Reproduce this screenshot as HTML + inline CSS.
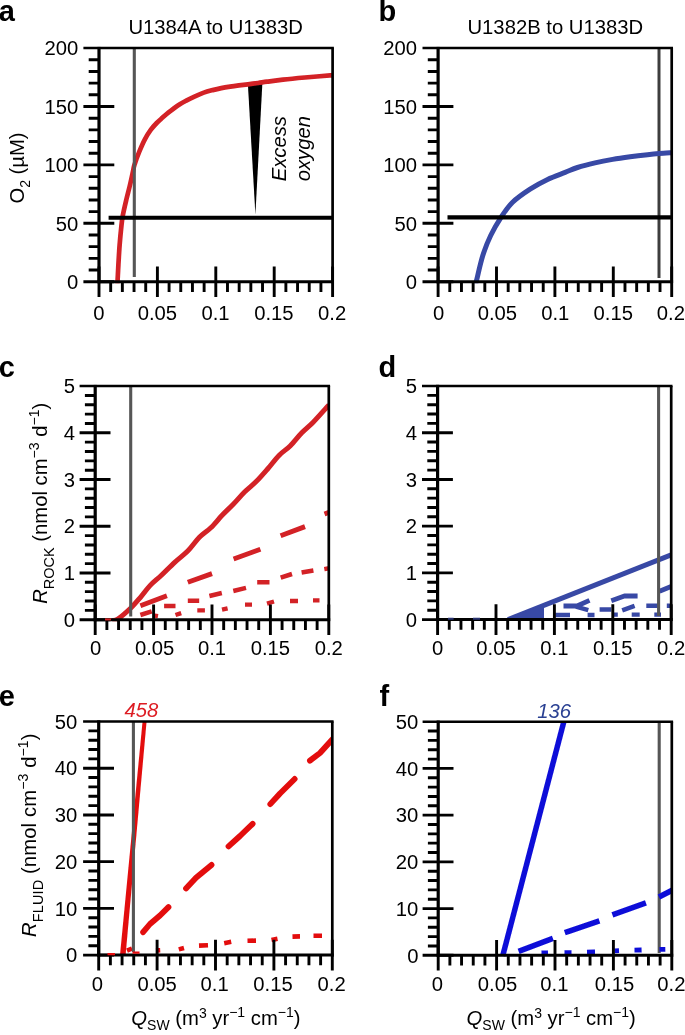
<!DOCTYPE html>
<html><head><meta charset="utf-8"><title>Figure</title>
<style>
html,body{margin:0;padding:0;background:#fff;}
body{width:685px;height:1035px;overflow:hidden;}
svg{display:block;}
</style></head><body>
<svg width="685" height="1035" viewBox="0 0 685 1035" font-family="'Liberation Sans', sans-serif" font-size="20.25" fill="#000">
<rect width="685" height="1035" fill="#fff"/>
<defs><filter id="soft" x="0" y="0" width="685" height="1035" filterUnits="userSpaceOnUse"><feGaussianBlur stdDeviation="0.45"/></filter><clipPath id="ca"><rect x="99" y="48.1" width="234.1" height="235.1"/></clipPath><clipPath id="cb"><rect x="438.1" y="48.1" width="234.1" height="235.1"/></clipPath><clipPath id="cc"><rect x="95.2" y="386.1" width="234.1" height="235.1"/></clipPath><clipPath id="cd"><rect x="437.6" y="386" width="234.1" height="235.1"/></clipPath><clipPath id="ce"><rect x="98.7" y="721.5" width="234.1" height="235.1"/></clipPath><clipPath id="cf"><rect x="438.2" y="721.7" width="234.1" height="235.1"/></clipPath></defs>
<g filter="url(#soft)">
<path d="M247.9 84.4L262.4 82.4L255.4 214.5Z" fill="#000"/>
<g clip-path="url(#ca)">
<path d="M117.3 284C117.33 283.68 117.32 285.33 117.5 282.1C117.68 278.87 118.05 270.73 118.4 264.6C118.75 258.47 119.1 251.72 119.6 245.3C120.1 238.88 120.87 231.07 121.4 226.1C121.93 221.13 121.98 219.88 122.8 215.5C123.62 211.12 125.13 204.75 126.3 199.8C127.47 194.85 128.63 190.77 129.8 185.8C130.97 180.83 132.52 173.52 133.3 170C134.08 166.48 133.52 167.72 134.5 164.7C135.48 161.68 137.45 156.17 139.2 151.9C140.95 147.63 143.05 142.8 145 139.1C146.95 135.4 148.95 132.38 150.9 129.7C152.85 127.02 154.75 125.02 156.7 123C158.65 120.98 160.62 119.37 162.6 117.6C164.58 115.83 166.12 114.38 168.6 112.4C171.08 110.42 174.55 107.67 177.5 105.7C180.45 103.73 183.38 102.17 186.3 100.6C189.22 99.03 192.08 97.63 195 96.3C197.92 94.97 200.87 93.63 203.8 92.6C206.73 91.57 209.68 90.85 212.6 90.1C215.52 89.35 218.38 88.68 221.3 88.1C224.22 87.52 227.18 87.05 230.1 86.6C233.02 86.15 235.82 85.78 238.8 85.4C241.78 85.02 244.78 84.7 248 84.3C251.22 83.9 254.93 83.43 258.1 83C261.27 82.57 262.85 82.27 267 81.7C271.15 81.13 276.68 80.3 283 79.6C289.32 78.9 296.57 78.23 304.9 77.5C313.23 76.77 328.32 75.58 333 75.2" stroke="#d32027" stroke-width="4.7" fill="none" stroke-linejoin="round" />
</g>
<path d="M134.3 48V277" stroke="#565656" stroke-width="3.1"/>
<path d="M108.6 217.8H332.6" stroke="#000" stroke-width="4.1"/>
<path d="M83.4 48.1H333.9" stroke="#000" stroke-width="2.5"/>
<path d="M332.6 48.1V283.2" stroke="#000" stroke-width="2.7"/>
<path d="M99 46.9V283.2" stroke="#000" stroke-width="3.2"/>
<path d="M97.4 281.7H334" stroke="#000" stroke-width="3.0"/>
<path d="M99 266.4V297M110.68 281.7V291.9M122.36 281.7V291.9M134.04 281.7V291.9M145.72 281.7V291.9M157.4 266.4V297M169.08 281.7V291.9M180.76 281.7V291.9M192.44 281.7V291.9M204.12 281.7V291.9M215.8 266.4V297M227.48 281.7V291.9M239.16 281.7V291.9M250.84 281.7V291.9M262.52 281.7V291.9M274.2 266.4V297M285.88 281.7V291.9M297.56 281.7V291.9M309.24 281.7V291.9M320.92 281.7V291.9M332.6 266.4V297M83.4 281.7H114.3M88.7 270.02H99M88.7 258.34H99M88.7 246.66H99M88.7 234.98H99M83.4 223.3H114.3M88.7 211.62H99M88.7 199.94H99M88.7 188.26H99M88.7 176.58H99M83.4 164.9H114.3M88.7 153.22H99M88.7 141.54H99M88.7 129.86H99M88.7 118.18H99M83.4 106.5H114.3M88.7 94.82H99M88.7 83.14H99M88.7 71.46H99M88.7 59.78H99" stroke="#000" stroke-width="2.9" fill="none"/>
<text x="99" y="320" text-anchor="middle">0</text>
<text x="157.4" y="320" text-anchor="middle">0.05</text>
<text x="215.5" y="320" text-anchor="middle">0.1</text>
<text x="273.9" y="320" text-anchor="middle">0.15</text>
<text x="332.1" y="320" text-anchor="middle">0.2</text>
<text x="78.3" y="288.9" text-anchor="end">0</text>
<text x="78.3" y="230.5" text-anchor="end">50</text>
<text x="78.3" y="172.1" text-anchor="end">100</text>
<text x="78.3" y="113.7" text-anchor="end">150</text>
<text x="78.3" y="55.3" text-anchor="end">200</text>
<text x="215.7" y="34" text-anchor="middle">U1384A to U1383D</text>
<text transform="translate(285.6 181.3) rotate(-90)" font-style="italic">Excess</text>
<text transform="translate(310 181.3) rotate(-90)" font-style="italic">oxygen</text>
<text transform="translate(24 203.6) rotate(-90)">O<tspan font-size="14" dy="6.3">2</tspan><tspan dy="-6.3"> (µM)</tspan></text>
<text x="-1.2" y="21.2" font-weight="bold" font-size="29">a</text>
<path d="M659.0 48V278" stroke="#3c3c3c" stroke-width="3.0"/>
<g clip-path="url(#cb)">
<path d="M475.6 284C475.77 283.37 475.4 284.93 476.6 280.2C477.8 275.47 480.45 263.05 482.8 255.6C485.15 248.15 487.63 241.92 490.7 235.5C493.77 229.08 497.55 222.65 501.2 217.1C504.85 211.55 507.78 206.87 512.6 202.2C517.42 197.53 524.27 192.9 530.1 189.1C535.93 185.3 541.77 182.18 547.6 179.4C553.43 176.62 560.12 174.38 565.1 172.4C570.08 170.42 572.52 169.08 577.5 167.5C582.48 165.92 589.15 164.25 595 162.9C600.85 161.55 606.75 160.42 612.6 159.4C618.45 158.38 624.27 157.58 630.1 156.8C635.93 156.02 642.78 155.23 647.6 154.7C652.42 154.17 654.85 153.93 659 153.6C663.15 153.27 670.25 152.85 672.5 152.7" stroke="#3948a5" stroke-width="5.0" fill="none" stroke-linejoin="round" />
</g>
<path d="M447.5 217.4H671.7" stroke="#000" stroke-width="4.1"/>
<path d="M422.5 48.1H673" stroke="#000" stroke-width="2.5"/>
<path d="M671.7 48.1V283.2" stroke="#000" stroke-width="2.7"/>
<path d="M438.1 46.9V283.2" stroke="#000" stroke-width="3.2"/>
<path d="M436.5 281.7H673.1" stroke="#000" stroke-width="3.0"/>
<path d="M438.1 266.4V297M449.78 281.7V291.9M461.46 281.7V291.9M473.14 281.7V291.9M484.82 281.7V291.9M496.5 266.4V297M508.18 281.7V291.9M519.86 281.7V291.9M531.54 281.7V291.9M543.22 281.7V291.9M554.9 266.4V297M566.58 281.7V291.9M578.26 281.7V291.9M589.94 281.7V291.9M601.62 281.7V291.9M613.3 266.4V297M624.98 281.7V291.9M636.66 281.7V291.9M648.34 281.7V291.9M660.02 281.7V291.9M671.7 266.4V297M422.5 281.7H453.4M427.8 270.02H438.1M427.8 258.34H438.1M427.8 246.66H438.1M427.8 234.98H438.1M422.5 223.3H453.4M427.8 211.62H438.1M427.8 199.94H438.1M427.8 188.26H438.1M427.8 176.58H438.1M422.5 164.9H453.4M427.8 153.22H438.1M427.8 141.54H438.1M427.8 129.86H438.1M427.8 118.18H438.1M422.5 106.5H453.4M427.8 94.82H438.1M427.8 83.14H438.1M427.8 71.46H438.1M427.8 59.78H438.1" stroke="#000" stroke-width="2.9" fill="none"/>
<text x="438.6" y="320" text-anchor="middle">0</text>
<text x="497.4" y="320" text-anchor="middle">0.05</text>
<text x="555.3" y="320" text-anchor="middle">0.1</text>
<text x="613.3" y="320" text-anchor="middle">0.15</text>
<text x="670.9" y="320" text-anchor="middle">0.2</text>
<text x="417" y="288.9" text-anchor="end">0</text>
<text x="417" y="230.5" text-anchor="end">50</text>
<text x="417" y="172.1" text-anchor="end">100</text>
<text x="417" y="113.7" text-anchor="end">150</text>
<text x="417" y="55.3" text-anchor="end">200</text>
<text x="555.3" y="34" text-anchor="middle">U1382B to U1383D</text>
<text x="378.6" y="21.2" font-weight="bold" font-size="29">b</text>
<g clip-path="url(#cc)">
<path d="M112 620.5C112.97 620.25 114.62 621.13 117.8 619C120.98 616.87 127.32 611.32 131.1 607.7C134.88 604.08 137.35 600.98 140.5 597.3C143.65 593.62 146.52 589.27 150 585.6C153.48 581.93 157.28 579.18 161.4 575.3C165.52 571.42 170.27 566.38 174.7 562.3C179.13 558.22 183.88 554.97 188 550.8C192.12 546.63 195.6 541.13 199.4 537.3C203.2 533.47 207.02 531.47 210.8 527.8C214.58 524.13 218.32 519.27 222.1 515.3C225.88 511.33 229.72 507.92 233.5 504C237.28 500.08 241.02 495.53 244.8 491.8C248.58 488.07 252.4 485.4 256.2 481.6C260 477.8 263.8 473.37 267.6 469C271.4 464.63 275.2 459.28 279 455.4C282.8 451.52 286.6 449.47 290.4 445.7C294.2 441.93 298 436.72 301.8 432.8C305.6 428.88 309.1 426.38 313.2 422.2C317.3 418.02 323.77 410.57 326.4 407.7C329.03 404.83 328.57 405.45 329 405" stroke="#d32027" stroke-width="5.0" fill="none" stroke-linejoin="round" />
<path d="M140.4 605.8L166.9 595.8M187.8 582.2L212 573.6M233.6 559L260.4 549.3M280.6 535.8L305 526.6M324.5 514L329 512.4" stroke="#d32027" stroke-width="4.9" fill="none" stroke-linejoin="round"/>
<path d="M140.4 615L151.7 611.4M164.1 606.1L175.5 606.1M187.8 600.8L199.2 600.8M209.4 596L221.8 593M233.3 591L246 587.9M257.2 582.2L269.5 582.2M280.7 577.7L292 574M301.6 572.5L313.4 570.5M324.3 569.1L329 568.3" stroke="#d32027" stroke-width="4.5" fill="none" stroke-linejoin="round"/>
<path d="M154.6 615.6L158 616.2M175.5 615L181.2 613.1M197.3 610.3L204.9 610.3M222 609.7L227.6 608.4M245 604.6L252 604.6M267 603.6L274 601.5M290 601L298 601M313 600.4L319.5 600.4" stroke="#d32027" stroke-width="4.3" fill="none" stroke-linejoin="round"/>
</g>
<path d="M130.7 386V616.5" stroke="#565656" stroke-width="3.1"/>
<path d="M79.6 386.1H330.1" stroke="#000" stroke-width="2.5"/>
<path d="M328.8 386.1V621.2" stroke="#000" stroke-width="2.7"/>
<path d="M95.2 384.9V621.2" stroke="#000" stroke-width="3.2"/>
<path d="M93.6 619.7H330.2" stroke="#000" stroke-width="3.0"/>
<path d="M95.2 604.4V635M106.88 619.7V629.9M118.56 619.7V629.9M130.24 619.7V629.9M141.92 619.7V629.9M153.6 604.4V635M165.28 619.7V629.9M176.96 619.7V629.9M188.64 619.7V629.9M200.32 619.7V629.9M212 604.4V635M223.68 619.7V629.9M235.36 619.7V629.9M247.04 619.7V629.9M258.72 619.7V629.9M270.4 604.4V635M282.08 619.7V629.9M293.76 619.7V629.9M305.44 619.7V629.9M317.12 619.7V629.9M328.8 604.4V635M79.6 619.7H110.5M84.9 610.36H95.2M84.9 601.01H95.2M84.9 591.67H95.2M84.9 582.32H95.2M79.6 572.98H110.5M84.9 563.64H95.2M84.9 554.29H95.2M84.9 544.95H95.2M84.9 535.6H95.2M79.6 526.26H110.5M84.9 516.92H95.2M84.9 507.57H95.2M84.9 498.23H95.2M84.9 488.88H95.2M79.6 479.54H110.5M84.9 470.2H95.2M84.9 460.85H95.2M84.9 451.51H95.2M84.9 442.16H95.2M79.6 432.82H110.5M84.9 423.48H95.2M84.9 414.13H95.2M84.9 404.79H95.2M84.9 395.44H95.2" stroke="#000" stroke-width="2.9" fill="none"/>
<text x="95.6" y="655" text-anchor="middle">0</text>
<text x="154.6" y="655" text-anchor="middle">0.05</text>
<text x="212" y="655" text-anchor="middle">0.1</text>
<text x="270.4" y="655" text-anchor="middle">0.15</text>
<text x="328.8" y="655" text-anchor="middle">0.2</text>
<text x="75" y="626.9" text-anchor="end">0</text>
<text x="75" y="580.18" text-anchor="end">1</text>
<text x="75" y="533.46" text-anchor="end">2</text>
<text x="75" y="486.74" text-anchor="end">3</text>
<text x="75" y="440.02" text-anchor="end">4</text>
<text x="75" y="393.3" text-anchor="end">5</text>
<path d="M105 619.4H111" stroke="#d32027" stroke-width="2"/>
<text x="-1.2" y="376.8" font-weight="bold" font-size="29">c</text>
<text transform="translate(46.6 603.8) rotate(-90)"><tspan font-style="italic">R</tspan><tspan font-size="14.5" dy="7">ROCK</tspan><tspan dy="-7"> (nmol cm</tspan><tspan font-size="14" dy="-8">−3</tspan><tspan dy="8"> d</tspan><tspan font-size="14" dy="-8">−1</tspan><tspan dy="8">)</tspan></text>
<g clip-path="url(#cd)">
<path d="M508 619.6L672.5 554.4" stroke="#3948a5" stroke-width="5.0" fill="none" stroke-linejoin="round" />
<path d="M508.5 620L544 604.5L544 620Z" fill="#3948a5"/>
<path d="M563.5 606L577 606L589.5 600.4M611.3 600.7L624.4 596L637.6 596M659.5 591.2L673 585.8" stroke="#3948a5" stroke-width="4.8" fill="none" stroke-linejoin="round"/>
<path d="M576 606.6L588.3 610.2M599.6 609.6L611.3 609.6M622.2 610.3L634.6 605.8M646.3 605.8L658 605.8M666.8 605.8L673 605.8" stroke="#3948a5" stroke-width="4.5" fill="none" stroke-linejoin="round"/>
<path d="M555.5 615L570 615M587.6 615L594.5 615M612 614.6L617.8 614.6M631.7 614.6L639.7 614.6M654.3 614.6L661 614.6" stroke="#3948a5" stroke-width="4.4" fill="none" stroke-linejoin="round"/>
</g>
<path d="M658.6 386V616" stroke="#565656" stroke-width="3.1"/>
<path d="M422 386H672.5" stroke="#000" stroke-width="2.5"/>
<path d="M671.2 386V621.1" stroke="#000" stroke-width="2.7"/>
<path d="M437.6 384.8V621.1" stroke="#000" stroke-width="3.2"/>
<path d="M436 619.6H672.6" stroke="#000" stroke-width="3.0"/>
<path d="M437.6 604.3V634.9M449.28 619.6V629.8M460.96 619.6V629.8M472.64 619.6V629.8M484.32 619.6V629.8M496 604.3V634.9M507.68 619.6V629.8M519.36 619.6V629.8M531.04 619.6V629.8M542.72 619.6V629.8M554.4 604.3V634.9M566.08 619.6V629.8M577.76 619.6V629.8M589.44 619.6V629.8M601.12 619.6V629.8M612.8 604.3V634.9M624.48 619.6V629.8M636.16 619.6V629.8M647.84 619.6V629.8M659.52 619.6V629.8M671.2 604.3V634.9M422 619.6H452.9M427.3 610.26H437.6M427.3 600.91H437.6M427.3 591.57H437.6M427.3 582.22H437.6M422 572.88H452.9M427.3 563.54H437.6M427.3 554.19H437.6M427.3 544.85H437.6M427.3 535.5H437.6M422 526.16H452.9M427.3 516.82H437.6M427.3 507.47H437.6M427.3 498.13H437.6M427.3 488.78H437.6M422 479.44H452.9M427.3 470.1H437.6M427.3 460.75H437.6M427.3 451.41H437.6M427.3 442.06H437.6M422 432.72H452.9M427.3 423.38H437.6M427.3 414.03H437.6M427.3 404.69H437.6M427.3 395.34H437.6" stroke="#000" stroke-width="2.9" fill="none"/>
<text x="437.6" y="655" text-anchor="middle">0</text>
<text x="496" y="655" text-anchor="middle">0.05</text>
<text x="554.4" y="655" text-anchor="middle">0.1</text>
<text x="612.8" y="655" text-anchor="middle">0.15</text>
<text x="671.2" y="655" text-anchor="middle">0.2</text>
<text x="417.1" y="626.8" text-anchor="end">0</text>
<text x="417.1" y="580.08" text-anchor="end">1</text>
<text x="417.1" y="533.36" text-anchor="end">2</text>
<text x="417.1" y="486.64" text-anchor="end">3</text>
<text x="417.1" y="439.92" text-anchor="end">4</text>
<text x="417.1" y="393.2" text-anchor="end">5</text>
<path d="M448 618.8H453.6M473 618.8H480" stroke="#2a3270" stroke-width="2"/>
<text x="378.6" y="376.8" font-weight="bold" font-size="29">d</text>
<g clip-path="url(#ce)">
<path d="M120.1 954L125.7 954L146.7 720L142.7 720Z" fill="#e30c10"/>
<path d="M143.11 932.21L150 924L160 915.5L168.44 907.15M186.01 888.4L196 877.8L211.51 864.91M228.53 846.33L240 836L252.62 823.83M270.28 804.17L280 793.5L294.64 778.95M309.95 760.67L320 753L332.03 739.64" stroke="#e30c10" stroke-width="5.8" fill="none" stroke-linejoin="round" stroke-linecap="round"/>
<path d="M127 950.6L132 948.5M156 950.4L160.2 950.2M178.8 949.4L184 948M199 945.6L208 945.2M224.2 943.2L231.2 941.8M247.5 940.8L256 940.6M271.5 940L277.5 938.8M292.5 936.6L300 936.4M313.5 935.8L322 935.8" stroke="#e30c10" stroke-width="4.6" fill="none" stroke-linejoin="round"/>
</g>
<path d="M133.4 721V952" stroke="#565656" stroke-width="3.1"/>
<path d="M83.1 721.5H333.6" stroke="#000" stroke-width="2.5"/>
<path d="M332.3 721.5V956.6" stroke="#000" stroke-width="2.7"/>
<path d="M98.7 720.3V956.6" stroke="#000" stroke-width="3.2"/>
<path d="M97.1 955.1H333.7" stroke="#000" stroke-width="3.0"/>
<path d="M98.7 939.8V970.4M110.38 955.1V965.3M122.06 955.1V965.3M133.74 955.1V965.3M145.42 955.1V965.3M157.1 939.8V970.4M168.78 955.1V965.3M180.46 955.1V965.3M192.14 955.1V965.3M203.82 955.1V965.3M215.5 939.8V970.4M227.18 955.1V965.3M238.86 955.1V965.3M250.54 955.1V965.3M262.22 955.1V965.3M273.9 939.8V970.4M285.58 955.1V965.3M297.26 955.1V965.3M308.94 955.1V965.3M320.62 955.1V965.3M332.3 939.8V970.4M83.1 955.1H114M88.4 945.76H98.7M88.4 936.41H98.7M88.4 927.07H98.7M88.4 917.72H98.7M83.1 908.38H114M88.4 899.04H98.7M88.4 889.69H98.7M88.4 880.35H98.7M88.4 871H98.7M83.1 861.66H114M88.4 852.32H98.7M88.4 842.97H98.7M88.4 833.63H98.7M88.4 824.28H98.7M83.1 814.94H114M88.4 805.6H98.7M88.4 796.25H98.7M88.4 786.91H98.7M88.4 777.56H98.7M83.1 768.22H114M88.4 758.88H98.7M88.4 749.53H98.7M88.4 740.19H98.7M88.4 730.84H98.7" stroke="#000" stroke-width="2.9" fill="none"/>
<text x="97.5" y="991" text-anchor="middle">0</text>
<text x="157.1" y="991" text-anchor="middle">0.05</text>
<text x="214.6" y="991" text-anchor="middle">0.1</text>
<text x="273" y="991" text-anchor="middle">0.15</text>
<text x="331.6" y="991" text-anchor="middle">0.2</text>
<text x="77.3" y="962.3" text-anchor="end">0</text>
<text x="77.3" y="915.58" text-anchor="end">10</text>
<text x="77.3" y="868.86" text-anchor="end">20</text>
<text x="77.3" y="822.14" text-anchor="end">30</text>
<text x="77.3" y="775.42" text-anchor="end">40</text>
<text x="77.3" y="728.7" text-anchor="end">50</text>
<path d="M107.5 954.2H115M132.5 952.6H139.5" stroke="#e30c10" stroke-width="2.2"/>
<text x="-1.2" y="705.8" font-weight="bold" font-size="29">e</text>
<text x="124.5" y="717.1" font-style="italic" fill="#dd1c24">458</text>
<text transform="translate(35.6 937) rotate(-90)" letter-spacing="0.12"><tspan font-style="italic">R</tspan><tspan font-size="14.5" dy="7">FLUID</tspan><tspan dy="-7"> (nmol cm</tspan><tspan font-size="14" dy="-8">−3</tspan><tspan dy="8"> d</tspan><tspan font-size="14" dy="-8">−1</tspan><tspan dy="8">)</tspan></text>
<text x="131.3" y="1024.5"><tspan font-style="italic">Q</tspan><tspan font-size="14" dy="5.6">SW</tspan><tspan dy="-5.6"> (m</tspan><tspan font-size="14" dy="-7">3</tspan><tspan dy="7"> yr</tspan><tspan font-size="14" dy="-8">−1</tspan><tspan dy="8"> cm</tspan><tspan font-size="14" dy="-8">−1</tspan><tspan dy="8">)</tspan></text>
<path d="M659.2 721V953" stroke="#565656" stroke-width="3.1"/>
<g clip-path="url(#cf)">
<path d="M502.7 956L564 721" stroke="#0e0ed8" stroke-width="5.5" fill="none" stroke-linejoin="round" />
<path d="M518.6 951.3L552.9 938.3M564.8 932.7L599.4 920.8M612.4 914.8L645.9 902.9M659 897L673.5 889.6" stroke="#0e0ed8" stroke-width="5.6" fill="none" stroke-linejoin="round"/>
<path d="M541.5 953L548 952.8M564.5 952.7L571.5 952.7M587 952.2L595 952M614.4 950.9L619 950.7M634.5 950.2L641.6 950M659.5 949.4L665.3 949.3" stroke="#0e0ed8" stroke-width="4.8" fill="none" stroke-linejoin="round"/>
</g>
<path d="M422.6 721.7H673.1" stroke="#000" stroke-width="2.5"/>
<path d="M671.8 721.7V956.8" stroke="#000" stroke-width="2.7"/>
<path d="M438.2 720.5V956.8" stroke="#000" stroke-width="3.2"/>
<path d="M436.6 955.3H673.2" stroke="#000" stroke-width="3.0"/>
<path d="M438.2 940V970.6M449.88 955.3V965.5M461.56 955.3V965.5M473.24 955.3V965.5M484.92 955.3V965.5M496.6 940V970.6M508.28 955.3V965.5M519.96 955.3V965.5M531.64 955.3V965.5M543.32 955.3V965.5M555 940V970.6M566.68 955.3V965.5M578.36 955.3V965.5M590.04 955.3V965.5M601.72 955.3V965.5M613.4 940V970.6M625.08 955.3V965.5M636.76 955.3V965.5M648.44 955.3V965.5M660.12 955.3V965.5M671.8 940V970.6M422.6 955.3H453.5M427.9 945.96H438.2M427.9 936.61H438.2M427.9 927.27H438.2M427.9 917.92H438.2M422.6 908.58H453.5M427.9 899.24H438.2M427.9 889.89H438.2M427.9 880.55H438.2M427.9 871.2H438.2M422.6 861.86H453.5M427.9 852.52H438.2M427.9 843.17H438.2M427.9 833.83H438.2M427.9 824.48H438.2M422.6 815.14H453.5M427.9 805.8H438.2M427.9 796.45H438.2M427.9 787.11H438.2M427.9 777.76H438.2M422.6 768.42H453.5M427.9 759.08H438.2M427.9 749.73H438.2M427.9 740.39H438.2M427.9 731.04H438.2" stroke="#000" stroke-width="2.9" fill="none"/>
<text x="437.3" y="991.2" text-anchor="middle">0</text>
<text x="497.5" y="991.2" text-anchor="middle">0.05</text>
<text x="554.4" y="991.2" text-anchor="middle">0.1</text>
<text x="614.5" y="991.2" text-anchor="middle">0.15</text>
<text x="671.4" y="991.2" text-anchor="middle">0.2</text>
<text x="418.4" y="962.5" text-anchor="end">0</text>
<text x="418.4" y="915.78" text-anchor="end">10</text>
<text x="418.4" y="869.06" text-anchor="end">20</text>
<text x="418.4" y="822.34" text-anchor="end">30</text>
<text x="418.4" y="775.62" text-anchor="end">40</text>
<text x="418.4" y="728.9" text-anchor="end">50</text>
<text x="379.6" y="705.8" font-weight="bold" font-size="29">f</text>
<text x="537.3" y="717.5" font-style="italic" fill="#2b4193">136</text>
<text x="466.6" y="1024.5"><tspan font-style="italic">Q</tspan><tspan font-size="14" dy="5.6">SW</tspan><tspan dy="-5.6"> (m</tspan><tspan font-size="14" dy="-7">3</tspan><tspan dy="7"> yr</tspan><tspan font-size="14" dy="-8">−1</tspan><tspan dy="8"> cm</tspan><tspan font-size="14" dy="-8">−1</tspan><tspan dy="8">)</tspan></text>
</g>
</svg>
</body></html>
